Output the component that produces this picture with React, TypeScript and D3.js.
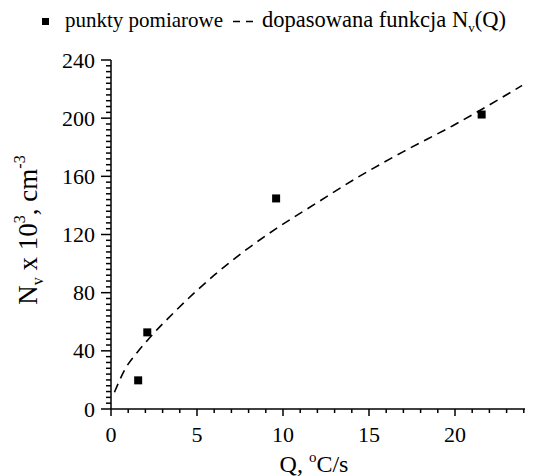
import React from "react";
import { scaleLinear, line, curveMonotoneX, range } from "d3";

// measured points (Q in °C/s, Nv in 10^3 cm^-3)
const pointQ = [1.58, 2.11, 9.6, 21.55];
const pointN = [19.7, 52.7, 144.8, 202.5];

// fitted curve Nv(Q)
const fitQ = [0.2, 0.8, 1.6, 2.1, 3.8, 6, 7.8, 9.6, 12, 14.3, 17, 19.9, 22.7, 23.9];
const fitN = [11.5, 27, 40, 47, 68, 92, 109, 124, 142, 159, 177, 195, 214, 222.5];

const xTicks = [0, 5, 10, 15, 20];
const yTicks = [0, 40, 80, 120, 160, 200, 240];

const txt = { fontFamily: "'Times New Roman', 'Liberation Serif', serif" };

export default function App() {
  const width = 537;
  const height = 476;

  const x = scaleLinear().domain([0, 24.07]).range([111, 525]);
  const y = scaleLinear().domain([0, 240]).range([409, 60]);

  const fitLine = line<number>()
    .x((d, i) => x(fitQ[i]))
    .y((d) => y(d))
    .curve(curveMonotoneX);

  const xMinor = range(0, 25, 1).filter((v) => v % 5 !== 0);
  const yMinor = range(0, 241, 4).filter((v) => v % 40 !== 0);

  return (
    <svg
      width={width}
      height={height}
      style={{ position: "absolute", left: 0, top: 0, background: "#fff" }}
    >
      {/* legend */}
      <rect x={42} y={18} width={7} height={7} fill="#000" />
      <text x={65} y={27} fontSize={21} style={txt}>
        punkty pomiarowe
      </text>
      <line
        x1={233}
        y1={21.5}
        x2={254}
        y2={21.5}
        stroke="#000"
        strokeWidth={1.5}
        strokeDasharray="7,6"
      />
      <text x={262} y={27} fontSize={22.5} style={txt}>
        dopasowana funkcja N
        <tspan fontSize={13} dy={5}>
          v
        </tspan>
        <tspan dy={-5}>(Q)</tspan>
      </text>

      {/* axes */}
      <g stroke="#000" strokeWidth={1.5}>
        <line x1={x(0)} y1={y(0)} x2={x(24.07)} y2={y(0)} />
        <line x1={x(0)} y1={y(0)} x2={x(0)} y2={y(240)} />
        {xTicks.map((t) => (
          <line key={"xt" + t} x1={x(t)} x2={x(t)} y1={y(0)} y2={y(0) + 7} />
        ))}
        {xMinor.map((t) => (
          <line key={"xm" + t} x1={x(t)} x2={x(t)} y1={y(0)} y2={y(0) + 4} />
        ))}
        {yTicks.map((t) => (
          <line key={"yt" + t} x1={x(0) - 10} x2={x(0)} y1={y(t)} y2={y(t)} />
        ))}
        {yMinor.map((t) => (
          <line key={"ym" + t} x1={x(0) - 5} x2={x(0)} y1={y(t)} y2={y(t)} />
        ))}
      </g>

      {xTicks.map((t) => (
        <text key={"xl" + t} x={x(t)} y={442} fontSize={22} textAnchor="middle" style={txt}>
          {t}
        </text>
      ))}
      {yTicks.map((t) => (
        <text
          key={"yl" + t}
          x={95}
          y={y(t) + 7.5}
          fontSize={22}
          textAnchor="end"
          style={txt}
        >
          {t}
        </text>
      ))}

      {/* axis titles */}
      <text x={314} y={472} fontSize={24} textAnchor="middle" style={txt}>
        Q,{" "}
        <tspan fontSize={15} dy={-10}>
          o
        </tspan>
        <tspan dy={10}>C/s</tspan>
      </text>
      <text
        transform="translate(37,230) rotate(-90)"
        fontSize={27}
        textAnchor="middle"
        style={txt}
      >
        N
        <tspan fontSize={16} dy={6}>
          v
        </tspan>
        <tspan dy={-6}> x 10</tspan>
        <tspan fontSize={16} dy={-12}>
          3
        </tspan>
        <tspan dy={12}>, cm</tspan>
        <tspan fontSize={16} dy={-12}>
          -3
        </tspan>
      </text>

      {/* fitted curve */}
      <path
        d={fitLine(fitN) || ""}
        fill="none"
        stroke="#000"
        strokeWidth={1.6}
        strokeDasharray="9,6"
      />

      {/* measured points */}
      {pointQ.map((q, i) => (
        <rect
          key={"p" + i}
          x={x(q) - 4}
          y={y(pointN[i]) - 4}
          width={8}
          height={8}
          fill="#000"
        />
      ))}
    </svg>
  );
}
